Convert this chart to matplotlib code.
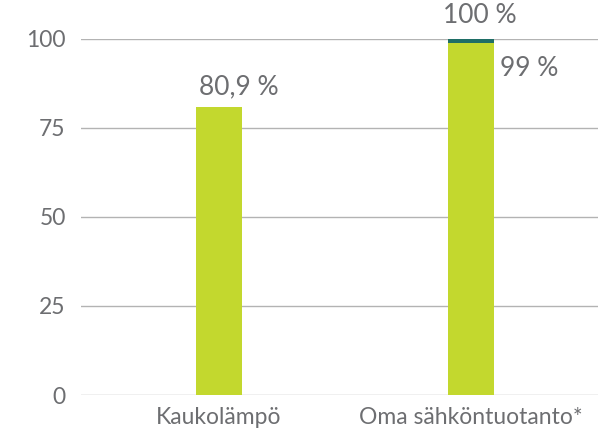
import matplotlib
matplotlib.use("Agg")
import matplotlib.pyplot as plt

categories = ["Kaukolämpö", "Oma sähköntuotanto*"]
green_values = [80.9, 99]
teal_values = [0, 1]
yticks = [0, 25, 50, 75, 100]

GREEN = "#c3d82e"
TEAL = "#1f6e66"
TEXT = "#6d6e71"
GRID = "#b3b3b3"

plt.rcParams['font.family'] = ['Lato', 'DejaVu Sans']

fig = plt.figure(figsize=(6.03, 4.37), dpi=100)
ax = fig.add_axes([81/603, 1-395/437, (598-81)/603, (395-39)/437])

x = list(range(len(categories)))
w = 0.18
ax.bar(x, green_values, width=w, color=GREEN, zorder=3)
ax.bar(x, teal_values, width=w, bottom=green_values, color=TEAL, zorder=3)

ax.set_xlim(-0.548, 1.504)
ax.set_ylim(0, 100)
ax.set_yticks(yticks)
ax.set_yticklabels([str(t) for t in yticks])
ax.set_xticks(x)
ax.set_xticklabels(categories)
ax.grid(axis='y', color=GRID, linewidth=1.0, zorder=0)
ax.set_axisbelow(True)
for s in ax.spines.values():
    s.set_visible(False)
ax.tick_params(axis='both', length=0, colors=TEXT, labelsize=16.5)
ax.tick_params(axis='y', pad=11)
ax.tick_params(axis='x', pad=9)

ax.text(x[0] + 0.078, green_values[0] + 2.2, "80,9 %", ha='center', va='bottom',
        color=TEXT, fontsize=19)
ax.text(x[1] + 0.036, green_values[1] + teal_values[1] + 3.2, "100 %", ha='center', va='bottom',
        color=TEXT, fontsize=19, clip_on=False)
ax.text(x[1] + 0.115, 91.8, "99 %", ha='left', va='center',
        color=TEXT, fontsize=19)

fig.savefig("out.png", dpi=100)
